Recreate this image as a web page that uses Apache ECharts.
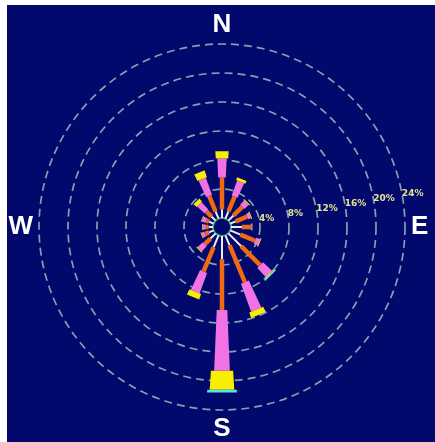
<!DOCTYPE html>
<html>
<head>
<meta charset="utf-8">
<script src="https://cdn.jsdelivr.net/npm/echarts@6/dist/echarts.min.js"></script>
<style>
html,body{margin:0;padding:0;background:#ffffff;width:435px;height:442px;overflow:hidden;}
#chart{position:absolute;left:7px;top:5px;width:428px;height:437px;}
</style>
</head>
<body>
<div id="chart"></div>
<script>
// Wind directions (clockwise from North)
const directions = ['N','NNE','NE','ENE','E','ESE','SE','SSE','S','SSW','SW','WSW','W','WNW','NW','NNW'];
// Frequency (%) per speed class, per direction
const classWhite   = [1.2, 1.1, 1.0, 0.8, 1.5, 1.5, 2.5, 1.5, 3.2, 1.8, 1.0, 0.7, 0.6, 0.7, 0.8, 1.1];
const classOrange  = [4.4, 2.2, 1.7, 1.7, 1.2, 2.2, 3.7, 5.5, 7.0, 3.6, 1.1, 0.6, 0.4, 0.4, 1.0, 2.3];
const classMagenta = [2.6, 2.2, 0.8, 0.4, 0.15,0.55,1.7, 4.1, 8.4, 3.0, 1.0, 0.4, 0.4, 0.55,1.4, 2.5];
const classYellow  = [1.0, 0.4, 0.15,0.15,0.1, 0.15,0.15,0.8, 2.6, 0.8, 0.15,0.1, 0.1, 0.1, 0.55,1.0];
const classCyan    = [0,   0,   0,   0,   0,   0,   0.2, 0,   0.4, 0,   0,   0,   0,   0,   0,   0  ];
// Ring tick labels
const ringTicks = [4, 8, 12, 16, 20, 24];

const layers = [
  {vals: classWhite,   color: '#eeeeee', w: r => 2},
  {vals: classOrange,  color: '#f06a12', w: r => 4.5},
  {vals: classMagenta, color: '#f072e4', w: r => 3.5 + 0.085 * r},
  {vals: classYellow,  color: '#f6f000', w: r => 3.5 + 0.13 * r},
  {vals: classCyan,    color: '#5ee2dc', w: r => 5 + 0.15 * r}
];

const cum = directions.map(() => 0);
const series = layers.map(function (L) {
  const data = directions.map(function (d, i) {
    const b = cum[i];
    cum[i] += L.vals[i];
    return [b, cum[i], i];
  });
  return {
    type: 'custom',
    coordinateSystem: 'polar',
    polarIndex: 0,
    encode: {radius: [0, 1], angle: 2},
    data: data,
    z: 5,
    renderItem: function (params, api) {
      const base = api.value(0), top = api.value(1), a = api.value(2);
      if (!(top - base > 0)) return null;
      const p0 = api.coord([base, a]);
      const p1 = api.coord([top, a]);
      const cx = params.coordSys.cx, cy = params.coordSys.cy;
      const r0 = p0[2], r1 = p1[2];
      const ux = (p1[0] - cx) / r1, uy = (p1[1] - cy) / r1;
      const px = -uy, py = ux;
      const h0 = L.w(r0) / 2, h1 = L.w(r1) / 2;
      return {
        type: 'polygon',
        shape: {points: [
          [p0[0] + px * h0, p0[1] + py * h0],
          [p1[0] + px * h1, p1[1] + py * h1],
          [p1[0] - px * h1, p1[1] - py * h1],
          [p0[0] - px * h0, p0[1] - py * h0]
        ]},
        style: {fill: L.color}
      };
    }
  };
});

const CX = 215, CY = 222;
const chart = echarts.init(document.getElementById('chart'));
chart.setOption({
  backgroundColor: '#02086c',
  animation: false,
  polar: [
    {center: [CX, CY], radius: [9, 183]},
    {center: [CX, CY], radius: [9, 183]},
    {center: [CX, CY], radius: [0, 9]}
  ],
  angleAxis: [
    {
      polarIndex: 0, type: 'category', data: directions, boundaryGap: false,
      startAngle: 90, clockwise: true,
      axisLine: {show: false}, axisTick: {show: false}, splitLine: {show: false},
      axisLabel: {show: true, interval: 3, margin: 6, color: '#ffffff',
        fontSize: 26, fontWeight: 'bold', fontFamily: 'Liberation Sans, Arial, sans-serif'}
    },
    {
      polarIndex: 1, type: 'value', min: 0, max: 360, startAngle: 10,
      axisLine: {show: false}, axisTick: {show: false}, axisLabel: {show: false}, splitLine: {show: false}
    },
    {
      polarIndex: 2, type: 'value', min: 0, max: 360, startAngle: 90,
      axisLine: {show: true, lineStyle: {color: '#3aa07a', width: 1.5}},
      axisTick: {show: false}, axisLabel: {show: false}, splitLine: {show: false}
    }
  ],
  radiusAxis: [
    {
      polarIndex: 0, type: 'value', min: 0, max: 24, interval: 4,
      axisLine: {show: false}, axisTick: {show: false}, axisLabel: {show: false},
      splitLine: {show: false}
    },
    {
      polarIndex: 1, type: 'value', min: 0, max: 24, interval: 4,
      axisLine: {show: false}, axisTick: {show: false},
      splitLine: {show: true, lineStyle: {color: '#7fa3b0', width: 1.7, type: [8, 5]}},
      axisLabel: {show: true, showMinLabel: false, margin: 2, align: 'left', verticalAlign: 'middle',
        color: '#e6e68e', fontSize: 9, fontWeight: 'bold', fontFamily: 'DejaVu Sans, sans-serif',
        formatter: function (v) { return ringTicks.indexOf(v) >= 0 ? v + '%' : ''; }}
    },
    {
      polarIndex: 2, type: 'value', show: false
    }
  ],
  series: series
});
</script>
</body>
</html>
